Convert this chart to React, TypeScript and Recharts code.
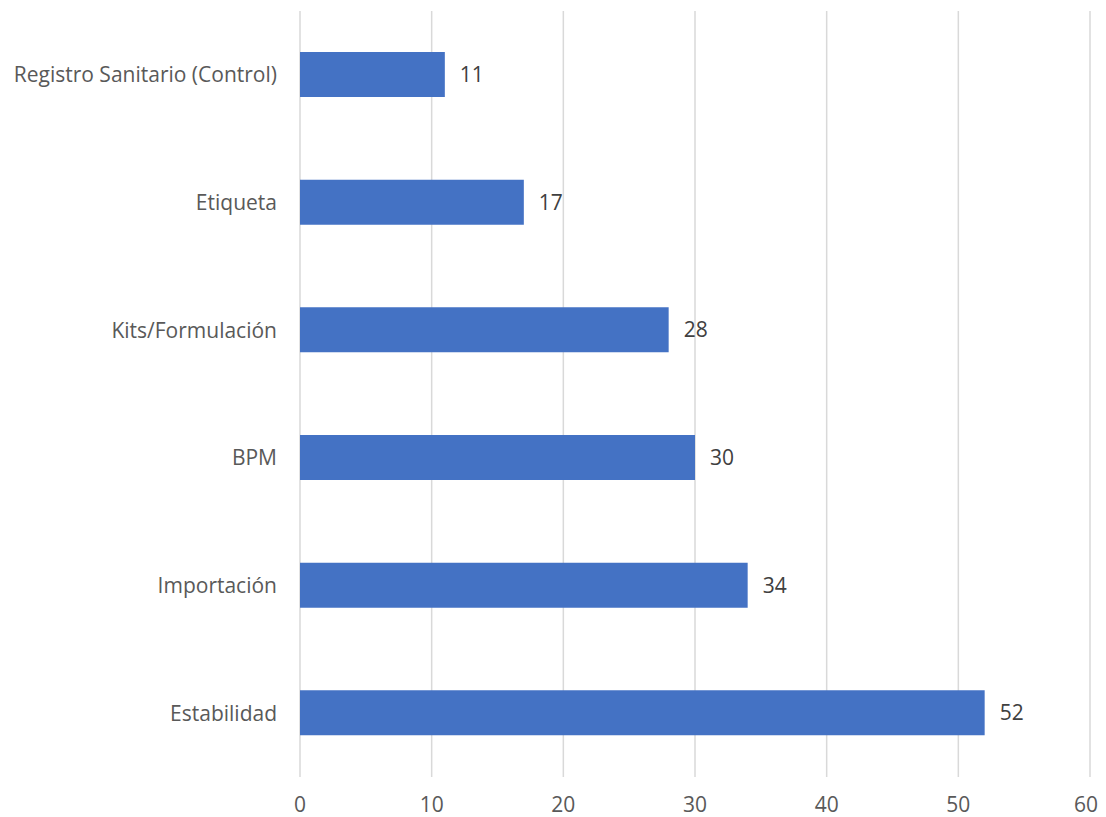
import { Bar, BarChart, CartesianGrid, LabelList, XAxis, YAxis } from "recharts";

const categories = [
  "Registro Sanitario (Control)",
  "Etiqueta",
  "Kits/Formulación",
  "BPM",
  "Importación",
  "Estabilidad",
];
const counts = [11, 17, 28, 30, 34, 52];
const xTicks = [0, 10, 20, 30, 40, 50, 60];

const data = categories.map((name, i) => ({ name, value: counts[i] }));

const font = "'Open Sans', sans-serif";

export default function App() {
  return (
    <div style={{ width: 1090, height: 809, fontFamily: font }}>
      <BarChart
        width={1090}
        height={809}
        data={data}
        layout="vertical"
        margin={{ top: 3, right: 8, bottom: 0, left: 0 }}
      >
        <CartesianGrid horizontal={false} stroke="#D9D9D9" strokeWidth={1.5} />
        <XAxis
          type="number"
          domain={[0, 60]}
          ticks={xTicks}
          axisLine={false}
          tickLine={false}
          tickSize={0}
          tickMargin={20}
          height={40}
          tick={{ fill: "#595959", fontSize: 21, fontFamily: font }}
        />
        <YAxis
          type="category"
          dataKey="name"
          width={292}
          axisLine={false}
          tickLine={false}
          tickSize={0}
          tickMargin={23}
          tick={{ fill: "#595959", fontSize: 21, fontFamily: font }}
        />
        <Bar dataKey="value" fill="#4472C4" barSize={45} isAnimationActive={false}>
          <LabelList
            dataKey="value"
            position="right"
            offset={15}
            style={{ fill: "#404040", fontSize: 21, fontFamily: font }}
          />
        </Bar>
      </BarChart>
    </div>
  );
}
